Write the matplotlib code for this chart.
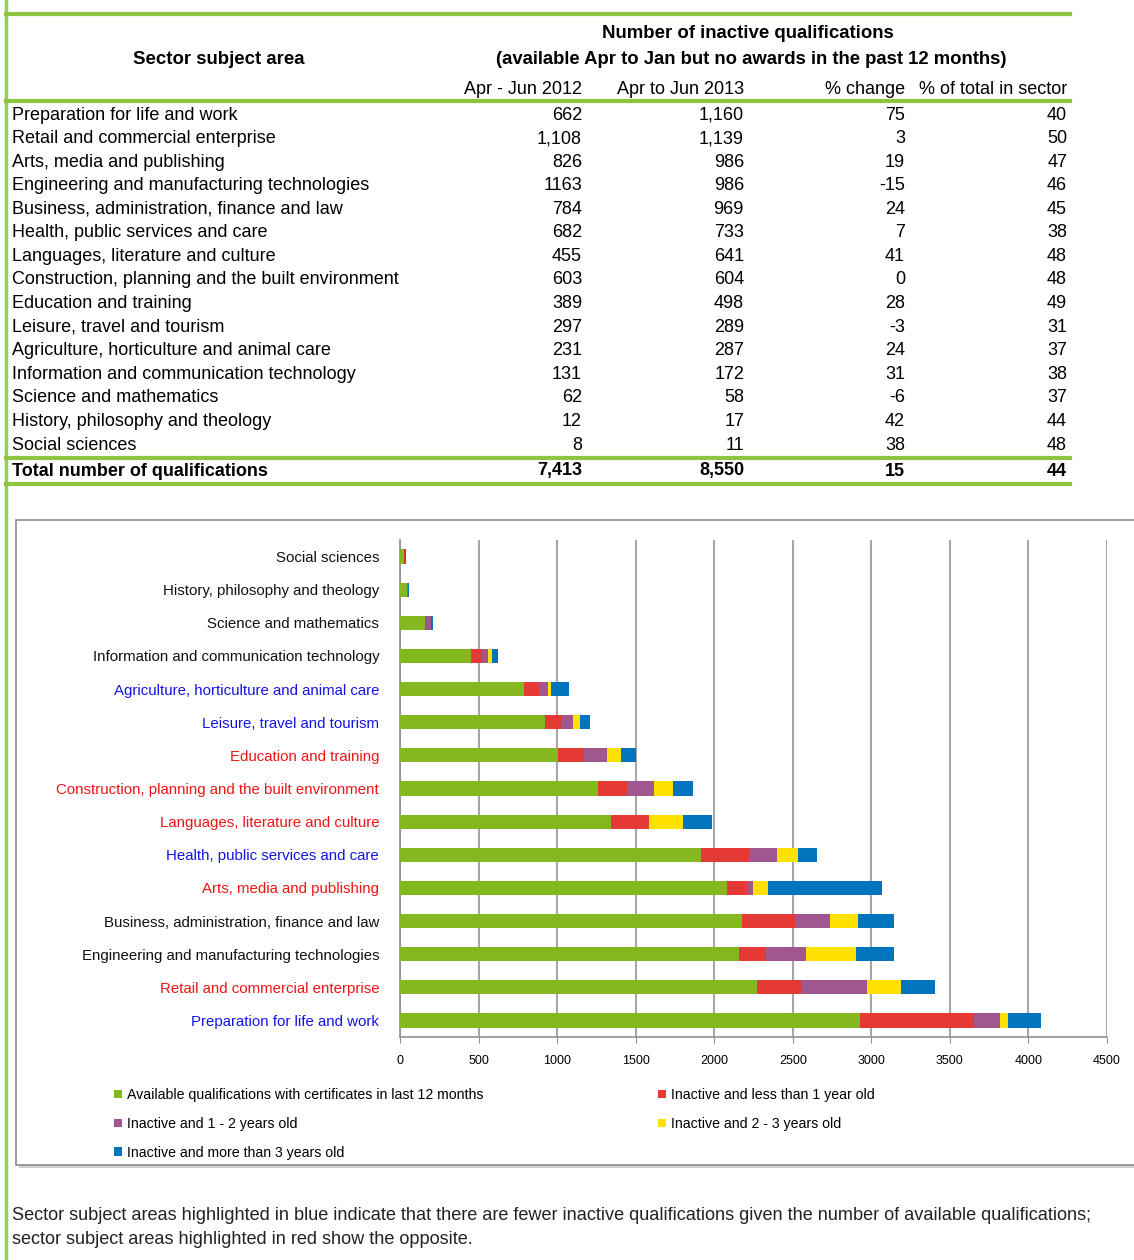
import matplotlib
matplotlib.use("Agg")
import matplotlib.pyplot as plt
from matplotlib.patches import Rectangle

plt.rcParams['font.family'] = ['Liberation Sans', 'DejaVu Sans']

# ---- table data (as printed) ----
sectors = ["Preparation for life and work", "Retail and commercial enterprise",
           "Arts, media and publishing", "Engineering and manufacturing technologies",
           "Business, administration, finance and law", "Health, public services and care",
           "Languages, literature and culture", "Construction, planning and the built environment",
           "Education and training", "Leisure, travel and tourism",
           "Agriculture, horticulture and animal care", "Information and communication technology",
           "Science and mathematics", "History, philosophy and theology", "Social sciences"]
n_2012 = ["662", "1,108", "826", "1163", "784", "682", "455", "603", "389", "297",
          "231", "131", "62", "12", "8"]
n_2013 = ["1,160", "1,139", "986", "986", "969", "733", "641", "604", "498", "289",
          "287", "172", "58", "17", "11"]
pct_change = ["75", "3", "19", "-15", "24", "7", "41", "0", "28", "-3", "24", "31", "-6", "42", "38"]
pct_total = ["40", "50", "47", "46", "45", "38", "48", "48", "49", "31", "37", "38", "37", "44", "48"]
total_row = ["Total number of qualifications", "7,413", "8,550", "15", "44"]

# ---- chart data (bottom to top) ----
chart_cats = ["Preparation for life and work", "Retail and commercial enterprise",
              "Engineering and manufacturing technologies", "Business, administration, finance and law",
              "Arts, media and publishing", "Health, public services and care",
              "Languages, literature and culture", "Construction, planning and the built environment",
              "Education and training", "Leisure, travel and tourism",
              "Agriculture, horticulture and animal care", "Information and communication technology",
              "Science and mathematics", "History, philosophy and theology", "Social sciences"]
label_colors = ["blue", "red", "black", "black", "red", "blue", "red", "red", "red", "blue",
                "blue", "black", "black", "black", "black"]
available = [2925, 2272, 2159, 2175, 2084, 1919, 1345, 1263, 1003, 925, 791, 455, 159, 42, 28]
lt_1yr = [731, 281, 168, 342, 124, 300, 243, 179, 171, 103, 95, 70, 8, 2, 2]
yr_1_2 = [165, 419, 256, 223, 39, 182, 0, 174, 142, 74, 58, 36, 28, 7, 4]
yr_2_3 = [47, 218, 317, 174, 96, 133, 212, 124, 93, 45, 17, 25, 4, 1, 1]
gt_3yr = [212, 218, 246, 232, 728, 118, 188, 126, 92, 61, 114, 38, 13, 7, 4]

series_names = ["Available qualifications with certificates in last 12 months",
                "Inactive and less than 1 year old", "Inactive and 1 - 2 years old",
                "Inactive and 2 - 3 years old", "Inactive and more than 3 years old"]
series_colors = ["#84B81F", "#E53935", "#A0568E", "#FFE100", "#0074BC"]
text_colors = {"blue": "#1414E6", "red": "#F01414", "black": "#111111"}

W, H = 1134, 1260
fig = plt.figure(figsize=(W / 100, H / 100), dpi=100)
bg = fig.add_axes([0, 0, 1, 1], zorder=0)
bg.set_xlim(0, W)
bg.set_ylim(H, 0)
bg.axis('off')

green = "#8CC63F"
bg.plot([6, 6], [0, H], color="#92D050", lw=2.5)
for yy in (14, 101, 458, 484):
    bg.plot([6, 1070], [yy, yy], color=green, lw=3)

fs = 13
bg.text(219, 59, "Sector subject area", ha='center', va='center', fontsize=13.4, weight='bold')
bg.text(748, 33, "Number of inactive qualifications", ha='center', va='center', fontsize=13.4, weight='bold')
bg.text(751, 59, "(available Apr to Jan but no awards in the past 12 months)", ha='center',
        va='center', fontsize=13.3, weight='bold')
col_x = [582, 744, 905, 1067]
for x, h in zip(col_x, ["Apr - Jun 2012", "Apr to Jun 2013", "% change", "% of total in sector"]):
    bg.text(x, 90, h, ha='right', va='center', fontsize=fs)

row_h = (445 - 115) / 14
for i, name in enumerate(sectors):
    yy = 115 + i * row_h
    bg.text(12, yy, name, ha='left', va='center', fontsize=fs)
    for x, v in zip(col_x, [n_2012[i], n_2013[i], pct_change[i], pct_total[i]]):
        bg.text(x, yy, v, ha='right', va='center', fontsize=fs)
bg.text(12, 471, total_row[0], ha='left', va='center', fontsize=fs, weight='bold')
for x, v in zip(col_x, total_row[1:]):
    bg.text(x, 471, v, ha='right', va='center', fontsize=fs, weight='bold')

# chart frame
bg.add_patch(Rectangle((19, 523), 1130, 645, facecolor="#D0D0D0", edgecolor='none'))
bg.add_patch(Rectangle((16, 520), 1130, 645, facecolor="white", edgecolor="#8C8C8C", lw=1.2))

# footnote
bg.text(12, 1216, "Sector subject areas highlighted in blue indicate that there are fewer inactive "
        "qualifications given the number of available qualifications;", ha='left', va='center',
        fontsize=13.1, color="#222222")
bg.text(12, 1240, "sector subject areas highlighted in red show the opposite.", ha='left',
        va='center', fontsize=13.1, color="#222222")

# ---- stacked bar chart ----
ax = fig.add_axes([400 / W, 1 - 1037 / H, 707 / W, 497 / H], zorder=1)
ax.patch.set_alpha(0)
ypos = list(range(len(chart_cats)))
left = [0] * len(chart_cats)
handles = []
for vals, c, name in zip([available, lt_1yr, yr_1_2, yr_2_3, gt_3yr], series_colors, series_names):
    b = ax.barh(ypos, vals, left=left, height=0.43, color=c, label=name, zorder=3)
    handles.append(b)
    left = [l + v for l, v in zip(left, vals)]

ax.set_xlim(0, 4500)
ax.set_ylim(-0.5, len(chart_cats) - 0.5)
ax.set_xticks(range(0, 4501, 500))
ax.xaxis.grid(True, color="#A6A6A6", lw=1.5, zorder=0)
ax.set_axisbelow(True)
for s in ('top', 'right'):
    ax.spines[s].set_visible(False)
for s in ('left', 'bottom'):
    ax.spines[s].set_color("#909090")
    ax.spines[s].set_linewidth(1.2)
ax.tick_params(axis='x', length=4, color="#909090", labelsize=9, pad=9)
ax.tick_params(axis='y', length=0, labelsize=10.8, pad=15)
ax.set_yticks(ypos)
ax.set_yticklabels(chart_cats)
for t, c in zip(ax.get_yticklabels(), label_colors):
    t.set_color(text_colors[c])

leg_kw = dict(loc='upper left', frameon=False, fontsize=10.2, handlelength=0.55, handleheight=0.55,
              handletextpad=0.35, labelspacing=1.05, borderpad=0, borderaxespad=0)
leg1 = fig.legend([handles[0], handles[2], handles[4]], [series_names[0], series_names[2], series_names[4]],
                  bbox_to_anchor=(114 / W, 1 - 1088 / H), **leg_kw)
leg2 = fig.legend([handles[1], handles[3]], [series_names[1], series_names[3]],
                  bbox_to_anchor=(658 / W, 1 - 1088 / H), **leg_kw)

fig.savefig("out.png", dpi=100)
